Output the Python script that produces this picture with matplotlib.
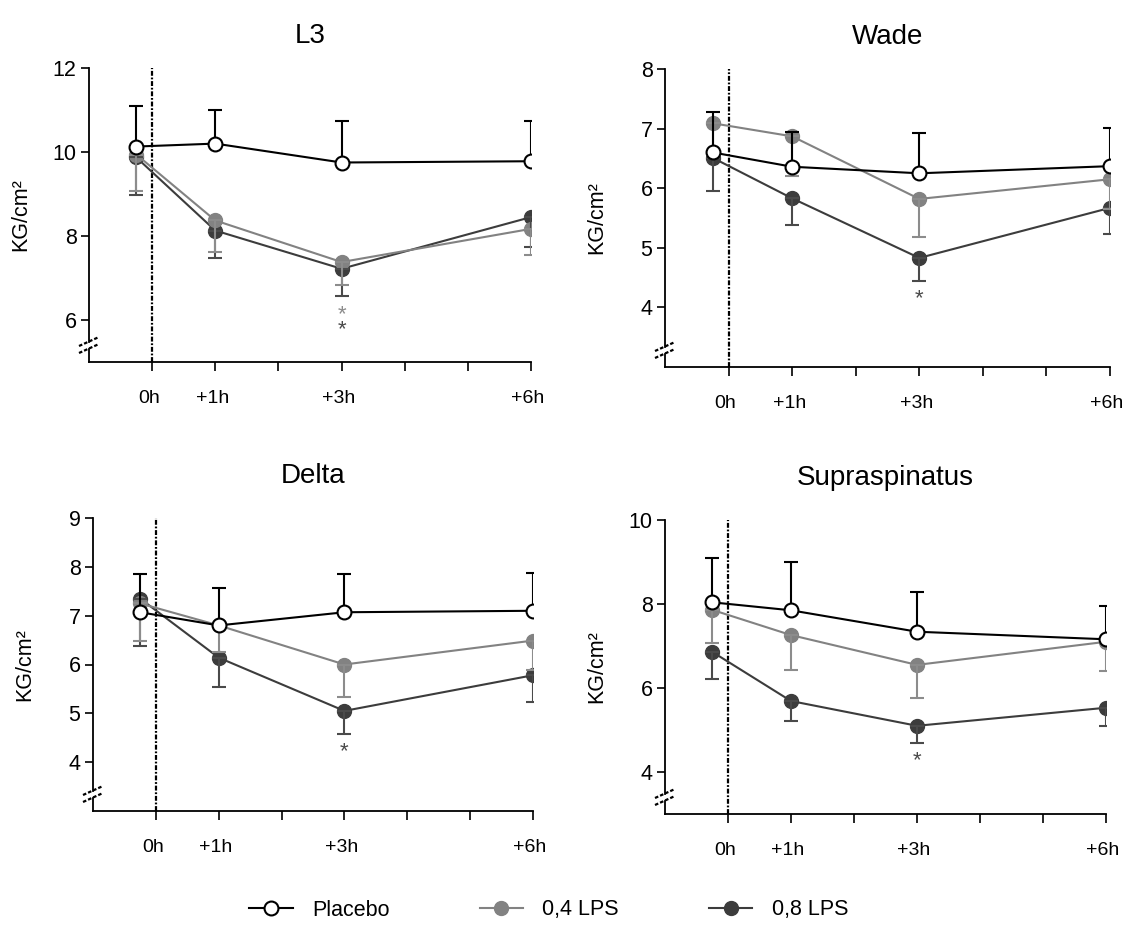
import matplotlib
matplotlib.use("Agg")
import matplotlib.pyplot as plt
import matplotlib.transforms as mtransforms
from matplotlib.lines import Line2D

plt.rcParams['font.family'] = ['Liberation Sans', 'DejaVu Sans']

# ---------------- data ----------------
times = [-0.25, 1, 3, 6]          # baseline measured just before 0h
xtick_pos = [0, 1, 2, 3, 4, 5, 6]
xtick_labels = ['0h', '+1h', '', '+3h', '', '', '+6h']
series_names = ['Placebo', '0,4 LPS', '0,8 LPS']
ylabel = 'KG/cm²'

panel_titles = ['L3', 'Wade', 'Delta', 'Supraspinatus']
panel_ylims = [(5, 12), (3, 8), (3, 9), (3, 10)]
panel_yticks = [[6, 8, 10, 12], [4, 5, 6, 7, 8], [4, 5, 6, 7, 8, 9], [4, 6, 8, 10]]

# L3
l3_placebo = [10.13, 10.20, 9.75, 9.78]
l3_placebo_err = [0.97, 0.79, 1.00, 0.95]
l3_lps04 = [9.94, 8.37, 7.38, 8.17]
l3_lps04_err = [0.86, 0.76, 0.54, 0.62]
l3_lps08 = [9.87, 8.13, 7.22, 8.45]
l3_lps08_err = [0.90, 0.66, 0.66, 0.70]
l3_stars = [(3, 6.22, '0,4 LPS'), (3, 5.85, '0,8 LPS')]

# Wade
wade_placebo = [6.60, 6.36, 6.25, 6.37]
wade_placebo_err = [0.68, 0.59, 0.68, 0.64]
wade_lps04 = [7.09, 6.87, 5.82, 6.15]
wade_lps04_err = [0.50, 0.67, 0.64, 0.50]
wade_lps08 = [6.51, 5.83, 4.83, 5.67]
wade_lps08_err = [0.55, 0.44, 0.39, 0.44]
wade_stars = [(3, 4.20, '0,8 LPS')]

# Delta
delta_placebo = [7.07, 6.80, 7.07, 7.10]
delta_placebo_err = [0.78, 0.77, 0.78, 0.78]
delta_lps04 = [7.25, 6.80, 6.00, 6.49]
delta_lps04_err = [0.77, 0.55, 0.67, 0.60]
delta_lps08 = [7.35, 6.14, 5.05, 5.78]
delta_lps08_err = [0.97, 0.61, 0.47, 0.55]
delta_stars = [(3, 4.29, '0,8 LPS')]

# Supraspinatus
supra_placebo = [8.04, 7.85, 7.34, 7.16]
supra_placebo_err = [1.06, 1.15, 0.95, 0.79]
supra_lps04 = [7.86, 7.26, 6.55, 7.10]
supra_lps04_err = [0.80, 0.83, 0.78, 0.69]
supra_lps08 = [6.86, 5.69, 5.10, 5.53]
supra_lps08_err = [0.64, 0.48, 0.40, 0.43]
supra_stars = [(3, 4.36, '0,8 LPS')]

# ---------------- style ----------------
W, H = 1141, 943
DPI = 100
col_line = {'Placebo': 'black', '0,4 LPS': '#828282', '0,8 LPS': '#3c3c3c'}
col_err = {'Placebo': 'black', '0,4 LPS': '#8c8c8c', '0,8 LPS': '#4a4a4a'}
col_star = {'0,4 LPS': '#8c8c8c', '0,8 LPS': '#4a4a4a'}
MS = 10
LW = 1.5

# axes boxes in pixels: left, top, right, bottom ; title pad (pt)
boxes = [(89, 68, 531, 362), (665, 69, 1110, 367),
         (93, 518, 533, 811), (665, 520, 1106, 814)]
title_pads = [18, 18, 25, 25]

panels = [
    (l3_placebo, l3_placebo_err, l3_lps04, l3_lps04_err, l3_lps08, l3_lps08_err, l3_stars),
    (wade_placebo, wade_placebo_err, wade_lps04, wade_lps04_err, wade_lps08, wade_lps08_err, wade_stars),
    (delta_placebo, delta_placebo_err, delta_lps04, delta_lps04_err, delta_lps08, delta_lps08_err, delta_stars),
    (supra_placebo, supra_placebo_err, supra_lps04, supra_lps04_err, supra_lps08, supra_lps08_err, supra_stars),
]

fig = plt.figure(figsize=(W / DPI, H / DPI), dpi=DPI)

for i, (box, data) in enumerate(zip(boxes, panels)):
    l, t, r, b = box
    ax = fig.add_axes([l / W, 1 - b / H, (r - l) / W, (b - t) / H])
    wpx, hpx = r - l, b - t
    pl, pl_e, p4, p4_e, p8, p8_e, stars = data
    zeros = [0] * len(times)

    ax.set_xlim(-1, 6)
    ax.set_ylim(*panel_ylims[i])

    # vertical dash-dot line at 0h
    ax.axvline(0, color='black', lw=1.6, ls=(0, (2.2, 0.8, 0.8, 0.8)), zorder=3)

    # error bars (placebo upwards, LPS downwards)
    ax.errorbar(times, p8, yerr=[p8_e, zeros], fmt='none', ecolor=col_err['0,8 LPS'],
                elinewidth=LW, capsize=5, capthick=LW, zorder=5.5)
    ax.errorbar(times, p4, yerr=[p4_e, zeros], fmt='none', ecolor=col_err['0,4 LPS'],
                elinewidth=LW, capsize=5, capthick=LW, zorder=5.5)
    ax.errorbar(times, pl, yerr=[zeros, pl_e], fmt='none', ecolor=col_err['Placebo'],
                elinewidth=LW, capsize=5, capthick=LW, zorder=5.6)

    # lines + markers
    ax.plot(times, p8, '-o', color=col_line['0,8 LPS'], lw=LW, ms=MS,
            mfc=col_line['0,8 LPS'], mec=col_line['0,8 LPS'], zorder=4)
    ax.plot(times, p4, '-o', color=col_line['0,4 LPS'], lw=LW, ms=MS,
            mfc=col_line['0,4 LPS'], mec=col_line['0,4 LPS'], zorder=5)
    ax.plot(times, pl, '-o', color='black', lw=LW, ms=MS,
            mfc='white', mec='black', mew=1.5, zorder=7)

    # significance stars
    for sx, sy, grp in stars:
        ax.annotate('*', xy=(sx, sy), xytext=(0, -6.5), textcoords='offset points',
                    ha='center', va='baseline', fontsize=16, color=col_star[grp])

    # axes styling
    ax.spines['top'].set_visible(False)
    ax.spines['right'].set_visible(False)
    ax.spines['left'].set_visible(False)
    ax.spines['bottom'].set_linewidth(1.3)
    ax.set_xticks(xtick_pos)
    ax.set_xticklabels(xtick_labels)
    ax.set_yticks(panel_yticks[i])
    ax.tick_params(axis='x', length=6.5, width=1.2, pad=14, labelsize=14)
    ax.tick_params(axis='y', length=5.5, width=1.2, pad=3.5, labelsize=15.5)
    shift = mtransforms.ScaledTranslation(-3 / DPI, 0, fig.dpi_scale_trans)
    for lab in ax.get_xticklabels():
        lab.set_transform(lab.get_transform() + shift)

    # left spine with axis break
    brk = 17.0
    gap = 3.5
    ax.add_line(Line2D([0, 0], [1, (brk + gap) / hpx], transform=ax.transAxes,
                       color='black', lw=1.3, clip_on=False, zorder=6))
    ax.add_line(Line2D([0, 0], [(brk - gap) / hpx, 0], transform=ax.transAxes,
                       color='black', lw=1.3, clip_on=False, zorder=6))
    for off in (gap, -gap):
        cy = brk + off
        ax.add_line(Line2D([-10 / wpx, 10 / wpx], [(cy - 4.5) / hpx, (cy + 4.5) / hpx],
                           transform=ax.transAxes, color='black', lw=1.6,
                           ls=(0, (1.6, 0.9)), clip_on=False, zorder=6))

    ax.set_title(panel_titles[i], fontsize=20, pad=title_pads[i])
    ax.set_ylabel(ylabel, fontsize=15.5, va='center')
    ax.yaxis.set_label_coords(-68 / wpx, 0.5)

# legend
handles = []
for name in series_names:
    if name == 'Placebo':
        h = Line2D([], [], color='black', lw=LW, marker='o', ms=MS, mfc='white', mec='black', mew=1.5)
    else:
        h = Line2D([], [], color=col_line[name], lw=LW, marker='o', ms=MS,
                   mfc=col_line[name], mec=col_line[name])
    handles.append(h)
fig.legend(handles, series_names, loc='center', bbox_to_anchor=(0.481, 1 - 910 / H),
           ncol=3, frameon=False, fontsize=15.5, handlelength=2.0, handletextpad=0.9,
           columnspacing=4.2)

fig.savefig('out.png', dpi=DPI)
